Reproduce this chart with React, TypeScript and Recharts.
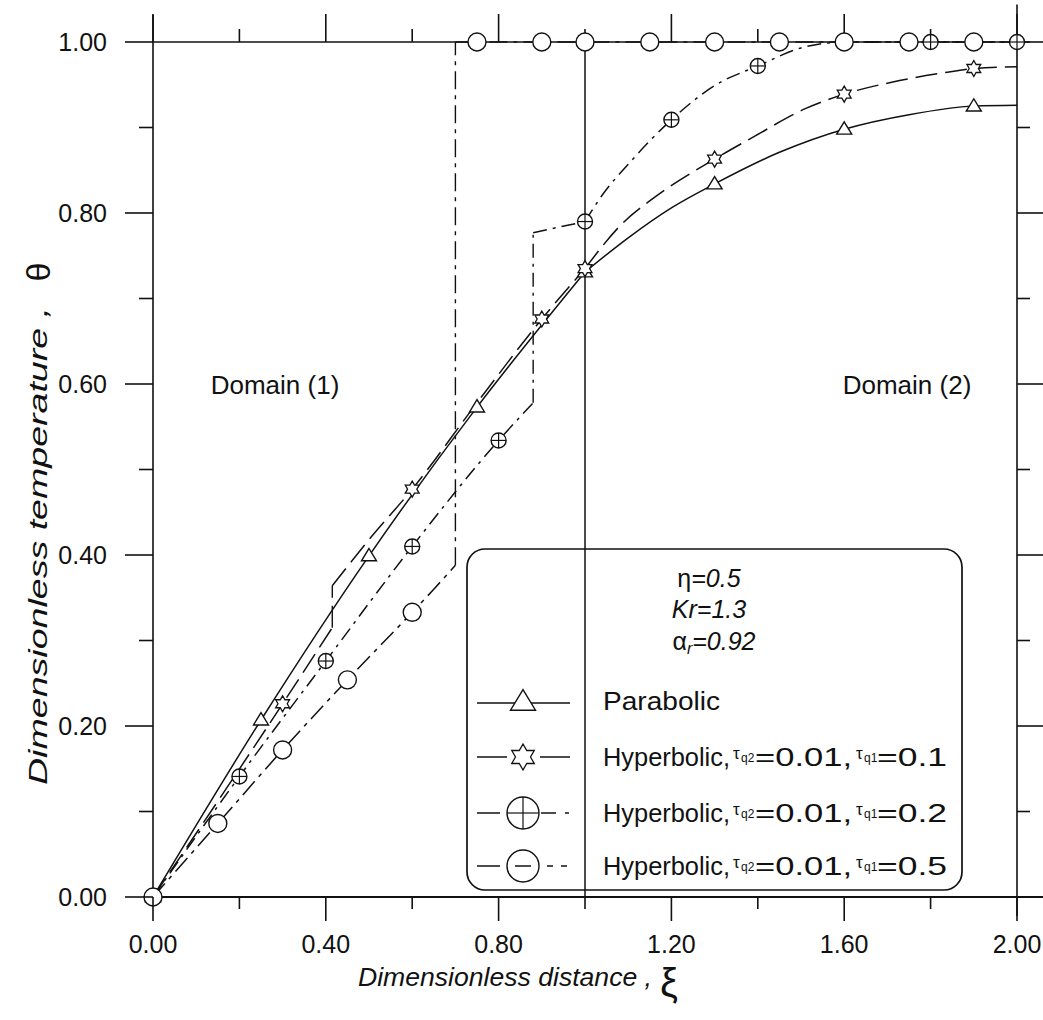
import React from "react";
import { ComposedChart, Line, Scatter, XAxis, YAxis, ReferenceLine } from "recharts";

const W = 1043;
const H = 1020;
const FONT = "'Liberation Sans', Arial, Helvetica, sans-serif";
const INK = "#111";

// pixel size of one unit on each axis (plot box 153..1017 x 42..897)
const PX_XI = 432;
const PX_TH = 855;

const xiTicks = [0, 0.2, 0.4, 0.6, 0.8, 1.0, 1.2, 1.4, 1.6, 1.8, 2.0];
const thetaTicks = [0, 0.1, 0.2, 0.3, 0.4, 0.5, 0.6, 0.7, 0.8, 0.9, 1.0];

// Parabolic
const parXiA = [0, 0.25, 0.5, 0.75, 1.0];
const parThA = [0, 0.207, 0.399, 0.573, 0.731];
const parXiB = [1.0, 1.1, 1.2, 1.3, 1.45, 1.6, 1.75, 1.9, 2.0];
const parThB = [0.731, 0.771, 0.806, 0.834, 0.871, 0.898, 0.915, 0.925, 0.926];
const parMarkXi = [0, 0.25, 0.5, 0.75, 1.0, 1.3, 1.6, 1.9];
const parMarkTh = [0, 0.207, 0.399, 0.573, 0.731, 0.834, 0.898, 0.925];

// Hyperbolic, tq2 = 0.01, tq1 = 0.1
const h1XiA = [0, 0.15, 0.3, 0.415];
const h1ThA = [0, 0.112, 0.226, 0.315];
const h1XiB = [0.415, 0.5, 0.6, 0.75, 0.9, 1.0];
const h1ThB = [0.364, 0.418, 0.477, 0.578, 0.676, 0.735];
const h1XiC = [1.0, 1.085, 1.16, 1.3, 1.39, 1.51, 1.6, 1.71, 1.83, 1.9, 2.0];
const h1ThC = [0.735, 0.787, 0.818, 0.863, 0.889, 0.922, 0.939, 0.953, 0.964, 0.969, 0.971];
const h1MarkXi = [0, 0.3, 0.6, 0.9, 1.0, 1.3, 1.6, 1.9];
const h1MarkTh = [0, 0.226, 0.477, 0.676, 0.735, 0.863, 0.939, 0.969];

// Hyperbolic, tq2 = 0.01, tq1 = 0.2
const h2XiA = [0, 0.2, 0.4, 0.6, 0.8, 0.88];
const h2ThA = [0, 0.141, 0.276, 0.41, 0.534, 0.578];
const h2XiB = [0.88, 1.0];
const h2ThB = [0.777, 0.79];
const h2XiC = [1.0, 1.04, 1.1, 1.2, 1.3, 1.4, 1.5, 1.6, 2.0];
const h2ThC = [0.79, 0.821, 0.857, 0.909, 0.949, 0.972, 0.993, 1.0, 1.0];
const h2MarkXi = [0, 0.2, 0.4, 0.6, 0.8, 1.0, 1.2, 1.4, 1.6, 1.8, 2.0];
const h2MarkTh = [0, 0.141, 0.276, 0.41, 0.534, 0.79, 0.909, 0.972, 1.0, 1.0, 1.0];

// Hyperbolic, tq2 = 0.01, tq1 = 0.5
const h3XiA = [0, 0.15, 0.3, 0.45, 0.6, 0.65, 0.7];
const h3ThA = [0, 0.086, 0.172, 0.254, 0.333, 0.36, 0.388];
const h3XiB = [0.7, 2.0];
const h3ThB = [1.0, 1.0];
const h3MarkXi = [0, 0.15, 0.3, 0.45, 0.6, 0.75, 0.9, 1.0, 1.15, 1.3, 1.45, 1.6, 1.75, 1.9];
const h3MarkTh = [0, 0.086, 0.172, 0.254, 0.333, 1, 1, 1, 1, 1, 1, 1, 1, 1];

const tau2 = "0.01";
const tau1 = ["0.1", "0.2", "0.5"];

type P = { x: number; y: number };
const pts = (xs: number[], ys: number[]): P[] => xs.map((x, i) => ({ x, y: ys[i] }));

// marker glyphs
function triangle(cx: number, cy: number, w: number, fill = "#fff") {
  const h = w * 0.82;
  return (
    <polygon
      points={`${cx},${cy - h * 0.6} ${cx - w / 2},${cy + h * 0.4} ${cx + w / 2},${cy + h * 0.4}`}
      fill={fill}
      stroke={INK}
      strokeWidth={1.4}
    />
  );
}

function hexagram(cx: number, cy: number, R: number) {
  const r = R / Math.sqrt(3);
  const p: string[] = [];
  for (let k = 0; k < 12; k++) {
    const a = (-90 + k * 30) * (Math.PI / 180);
    const rad = k % 2 === 0 ? R : r;
    p.push(`${cx + rad * Math.cos(a)},${cy + rad * Math.sin(a)}`);
  }
  return <polygon points={p.join(" ")} fill="#fff" stroke={INK} strokeWidth={1.3} />;
}

function circlePlus(cx: number, cy: number, r: number) {
  return (
    <g>
      <circle cx={cx} cy={cy} r={r} fill="#fff" stroke={INK} strokeWidth={1.4} />
      <line x1={cx - r} y1={cy} x2={cx + r} y2={cy} stroke={INK} strokeWidth={1.2} />
      <line x1={cx} y1={cy - r} x2={cx} y2={cy + r} stroke={INK} strokeWidth={1.2} />
    </g>
  );
}

function circleOpen(cx: number, cy: number, r: number, fill = "#fff") {
  return <circle cx={cx} cy={cy} r={r} fill={fill} stroke={INK} strokeWidth={1.4} />;
}

const series = [
  {
    id: "par",
    parts: [pts(parXiA, parThA), pts(parXiB, parThB)],
    marks: pts(parMarkXi, parMarkTh),
    dash: undefined as string | undefined,
    shape: (p: any) => triangle(p.cx, p.cy, 15),
  },
  {
    id: "h1",
    parts: [pts(h1XiA, h1ThA), pts(h1XiB, h1ThB), pts(h1XiC, h1ThC)],
    marks: pts(h1MarkXi, h1MarkTh),
    dash: "22 8",
    shape: (p: any) => hexagram(p.cx, p.cy, 8),
  },
  {
    id: "h2",
    parts: [pts(h2XiA, h2ThA), pts(h2XiB, h2ThB), pts(h2XiC, h2ThC)],
    marks: pts(h2MarkXi, h2MarkTh),
    dash: "14 6 3 6",
    shape: (p: any) => circlePlus(p.cx, p.cy, 7.5),
  },
  {
    id: "h3",
    parts: [pts(h3XiA, h3ThA), pts(h3XiB, h3ThB)],
    marks: pts(h3MarkXi, h3MarkTh),
    dash: "18 6 4 6",
    shape: (p: any) => circleOpen(p.cx, p.cy, 9),
  },
];

const XTick = (props: any) => {
  const { x, y, payload } = props;
  const v = payload.value as number;
  const major = Math.round(v * 10) % 4 === 0;
  return (
    <g>
      <line x1={x} y1={y} x2={x} y2={y + (major ? 24 : 12)} stroke={INK} strokeWidth={1.6} />
      {major && (
        <text x={x} y={y + 56} textAnchor="middle" fontSize={25} fontFamily={FONT} fill={INK}>
          {v.toFixed(2)}
        </text>
      )}
    </g>
  );
};

const YTick = (props: any) => {
  const { x, y, payload } = props;
  const v = payload.value as number;
  const major = Math.round(v * 10) % 2 === 0;
  return (
    <g>
      <line x1={x} y1={y} x2={x - (major ? 28 : 14)} y2={y} stroke={INK} strokeWidth={1.6} />
      {major && (
        <text x={x - 46} y={y + 9} textAnchor="end" fontSize={25} fontFamily={FONT} fill={INK}>
          {v.toFixed(2)}
        </text>
      )}
    </g>
  );
};

function seg(x1: number, y1: number, x2: number, y2: number, key: string, width = 1.6) {
  return (
    <ReferenceLine
      key={key}
      segment={[{ x: x1, y: y1 }, { x: x2, y: y2 }]}
      ifOverflow="visible"
      stroke={INK}
      strokeWidth={width}
    />
  );
}

function LegendRow({ y, idx }: { y: number; idx: number }) {
  const base = y + 9;
  const t1 = tau1[idx];
  return (
    <g fontFamily={FONT} fill={INK}>
      <text x={603} y={base} fontSize={26} textLength={127} lengthAdjust="spacingAndGlyphs">
        Hyperbolic,
      </text>
      <text x={733} y={base - 7} fontSize={17}>τ</text>
      <text x={741} y={base - 4} fontSize={12}>{`q2`}</text>
      <text x={755} y={base} fontSize={26} textLength={97} lengthAdjust="spacingAndGlyphs">
        {`=${tau2},`}
      </text>
      <text x={856} y={base - 7} fontSize={17}>τ</text>
      <text x={864} y={base - 4} fontSize={12}>{`q1`}</text>
      <text x={877} y={base} fontSize={26} textLength={70} lengthAdjust="spacingAndGlyphs">
        {`=${t1}`}
      </text>
    </g>
  );
}

export default function App() {
  const lines = series.flatMap((s) => {
    const out: React.ReactElement[] = [];
    s.parts.forEach((part, i) => {
      if (i > 0) {
        const a = s.parts[i - 1][s.parts[i - 1].length - 1];
        const b = part[0];
        if (a.y !== b.y) {
          out.push(
            <Line
              key={`${s.id}-jump-${i}`}
              data={[a, b]}
              dataKey="y"
              type="linear"
              stroke={INK}
              strokeWidth={1.4}
              strokeDasharray={s.dash}
              dot={false}
              activeDot={false}
              isAnimationActive={false}
            />
          );
        }
      }
      out.push(
        <Line
          key={`${s.id}-part-${i}`}
          data={part}
          dataKey="y"
          type="monotone"
          stroke={INK}
          strokeWidth={1.5}
          strokeDasharray={s.dash}
          dot={false}
          activeDot={false}
          isAnimationActive={false}
        />
      );
    });
    return out;
  });

  const marks = series.map((s) => (
    <Scatter key={`${s.id}-marks`} data={s.marks} shape={s.shape} isAnimationActive={false} />
  ));

  // frame pieces and outer tick marks on the top and right sides
  const frame = [
    seg(0, 0, 0, 1.032, "left"),
    seg(-0.02, 0, 2.06, 0, "bottom", 2),
    seg(0, 1, 2.03, 1, "top"),
    seg(2, -19 / PX_TH, 2, 1.044, "right"),
    seg(1, 0, 1, 1, "interface", 1.5),
    ...xiTicks.map((v) => {
      const major = Math.round(v * 10) % 4 === 0;
      return seg(v, 1, v, 1 + (major ? 28 : 13) / PX_TH, `tt-${v}`);
    }),
    ...thetaTicks.map((v) => {
      const major = Math.round(v * 10) % 2 === 0;
      return seg(2, v, 2 + (major ? 27 : 13) / PX_XI, v, `rt-${v}`);
    }),
  ];

  return (
    <div style={{ position: "absolute", left: 0, top: 0, width: W, height: H, background: "#fff" }}>
      <ComposedChart width={W} height={H} margin={{ top: 42, right: 26, bottom: 0, left: 0 }}>
        <XAxis
          type="number"
          dataKey="x"
          domain={[0, 2]}
          ticks={xiTicks}
          height={123}
          axisLine={false}
          tickLine={false}
          tickSize={0}
          tickMargin={0}
          tick={<XTick />}
          interval={0}
        />
        <YAxis
          type="number"
          dataKey="y"
          domain={[0, 1]}
          ticks={thetaTicks}
          width={153}
          axisLine={false}
          tickLine={false}
          tickSize={0}
          tickMargin={0}
          tick={<YTick />}
          interval={0}
        />
        {frame}
        {lines}
        {marks}
      </ComposedChart>

      <svg
        width={W}
        height={H}
        style={{ position: "absolute", left: 0, top: 0, pointerEvents: "none" }}
        fontFamily={FONT}
        fill={INK}
      >
        <text x={275} y={394} textAnchor="middle" fontSize={26}>Domain (1)</text>
        <text x={907} y={394} textAnchor="middle" fontSize={26}>Domain (2)</text>

        <rect x={467} y={549} width={495} height={341} rx={18} fill="none" stroke={INK} strokeWidth={1.7} />
        <text x={709} y={587} textAnchor="middle" fontSize={25}>
          <tspan>η</tspan>
          <tspan fontStyle="italic">=0.5</tspan>
        </text>
        <text x={709} y={618} textAnchor="middle" fontSize={25} fontStyle="italic">Kr=1.3</text>
        <text x={714} y={650} textAnchor="middle" fontSize={25}>
          <tspan>α</tspan>
          <tspan fontSize={16} fontStyle="italic" dy={4}>r</tspan>
          <tspan fontStyle="italic" dy={-4}>=0.92</tspan>
        </text>

        {/* legend samples */}
        <g stroke={INK} strokeWidth={1.5}>
          <line x1={477} y1={703} x2={570} y2={703} />
          {triangle(523, 702, 25)}

          <line x1={477} y1={757} x2={507} y2={757} />
          <line x1={540} y1={757} x2={570} y2={757} />
          {hexagram(523, 757, 13)}

          <line x1={477} y1={813} x2={500} y2={813} />
          <line x1={541} y1={813} x2={556} y2={813} />
          <line x1={565} y1={813} x2={569} y2={813} />
          {circlePlus(523, 813, 16)}

          <line x1={477} y1={866} x2={500} y2={866} />
          {circleOpen(523, 866, 16, "none")}
          <line x1={515} y1={866} x2={531} y2={866} />
          <line x1={547} y1={866} x2={553} y2={866} />
          <line x1={561} y1={866} x2={567} y2={866} />
        </g>
        <text x={603} y={710} fontSize={26} textLength={117} lengthAdjust="spacingAndGlyphs">Parabolic</text>
        <LegendRow y={757} idx={0} />
        <LegendRow y={813} idx={1} />
        <LegendRow y={866} idx={2} />

        {/* axis titles */}
        <text x={358} y={986} fontSize={26} fontStyle="italic" textLength={294} lengthAdjust="spacingAndGlyphs">
          Dimensionless distance ,
        </text>
        <text x={660} y={997} fontSize={40}>ξ</text>
        <text
          transform="translate(47,785) rotate(-90)"
          fontSize={26}
          fontStyle="italic"
          textLength={478}
          lengthAdjust="spacingAndGlyphs"
        >
          Dimensionless temperature ,
        </text>
        <text transform="translate(50,272) rotate(-90)" textAnchor="middle" fontSize={34}>θ</text>
      </svg>
    </div>
  );
}
